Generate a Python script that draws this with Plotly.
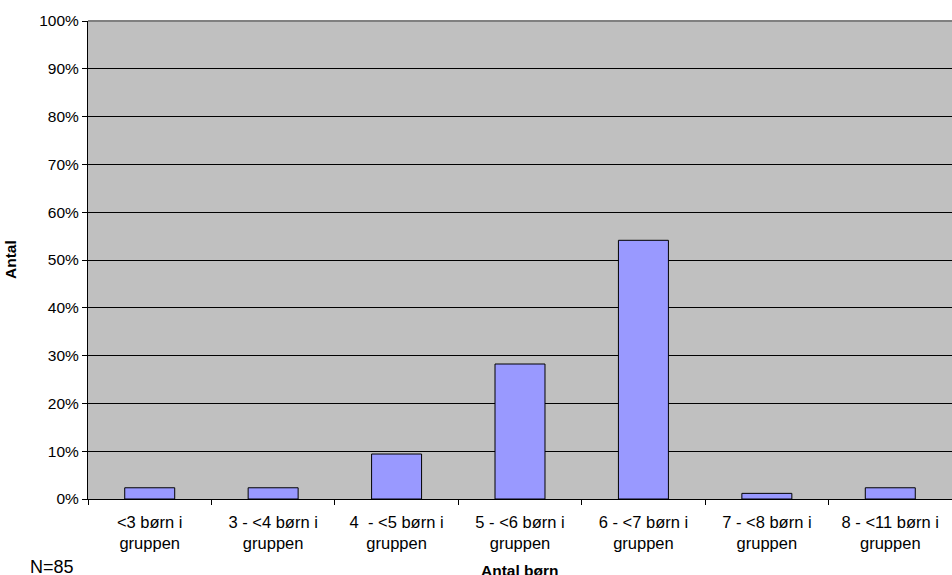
import plotly.graph_objects as go

categories = ["<3 børn i<br>gruppen", "3 - <4 børn i<br>gruppen", "4  - <5 børn i<br>gruppen",
              "5 - <6 børn i<br>gruppen", "6 - <7 børn i<br>gruppen", "7 - <8 børn i<br>gruppen",
              "8 - <11 børn i<br>gruppen"]
values = [2.35, 2.35, 9.41, 28.24, 54.12, 1.18, 2.35]
y_ticks = [0, 10, 20, 30, 40, 50, 60, 70, 80, 90, 100]
y_ticklabels = [f"{v}%" for v in y_ticks]

fig = go.Figure()
fig.add_trace(go.Bar(
    x=categories, y=values, width=0.405,
    marker=dict(color="#9999FF", line=dict(color="black", width=1)),
))

font_family = "Liberation Sans, Arial, sans-serif"
fig.update_layout(
    width=952, height=575,
    margin=dict(l=88, r=0, t=21, b=76),
    paper_bgcolor="white", plot_bgcolor="#C0C0C0",
    showlegend=False,
    font=dict(family=font_family, size=15, color="black"),
    xaxis=dict(
        showline=True, linecolor="black", linewidth=1,
        ticks="outside", ticklen=5, tickcolor="black",
        tickson="boundaries", showgrid=False,
        tickfont=dict(size=16.5), ticklabelstandoff=8,
    ),
    yaxis=dict(
        range=[0, 100], tickvals=y_ticks, ticktext=y_ticklabels,
        showline=True, linecolor="black", linewidth=1,
        ticks="outside", ticklen=5, tickcolor="black",
        showgrid=True, gridcolor="black", gridwidth=1,
        zeroline=False,
        tickfont=dict(size=15.5),
    ),
    shapes=[dict(type="line", xref="paper", yref="paper", x0=0, x1=1, y0=1, y1=1,
                 line=dict(color="#808080", width=2))],
    annotations=[
        dict(text="N=85", xref="paper", yref="paper", x=0, y=0, xshift=-36, yshift=-68,
             xanchor="center", yanchor="middle", showarrow=False, font=dict(size=18)),
        dict(text="<b>Antal børn</b>", xref="paper", yref="paper", x=0.5, y=0, yshift=-71,
             xanchor="center", yanchor="middle", showarrow=False, font=dict(size=15.5)),
        dict(text="<b>Antal</b>", xref="paper", yref="paper", x=0, y=0.5, xshift=-78,
             textangle=-90, xanchor="center", yanchor="middle", showarrow=False,
             font=dict(size=15.5)),
    ],
)

fig.write_html("out.html", config={"displayModeBar": False},
               post_script="document.body.style.margin='0';document.body.style.overflow='hidden';")
